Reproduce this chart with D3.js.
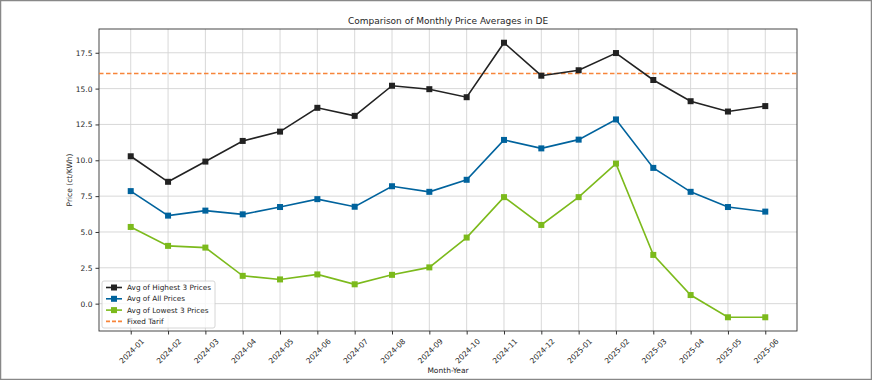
<!DOCTYPE html>
<meta charset='utf-8'>
<style>
  body { margin: 0; background: #fff; }
  text { font-family: 'DejaVu Sans', sans-serif; fill: #262626; }
  .grid line { stroke: #d4d4d4; stroke-width: 0.9; }
  .axis path, .axis line { stroke: #333; }
</style>
<svg width='872' height='380'></svg>
<script src="https://d3js.org/d3.v7.min.js"></script>
<script>
  var months = ['2024-01','2024-02','2024-03','2024-04','2024-05','2024-06','2024-07','2024-08','2024-09',
    '2024-10','2024-11','2024-12','2025-01','2025-02','2025-03','2025-04','2025-05','2025-06'];
  var highest = [10.28, 8.5, 9.91, 11.35, 12.0, 13.66, 13.1, 15.2, 14.96, 14.4, 18.2, 15.9, 16.28, 17.48, 15.6, 14.12, 13.4, 13.78];
  var allPrices = [7.85, 6.14, 6.49, 6.23, 6.74, 7.29, 6.76, 8.19, 7.8, 8.64, 11.42, 10.83, 11.44, 12.85, 9.47, 7.8, 6.74, 6.42];
  var lowest = [5.35, 4.03, 3.91, 1.94, 1.69, 2.04, 1.35, 2.01, 2.53, 4.61, 7.43, 5.49, 7.43, 9.77, 3.4, 0.6, -0.95, -0.95];
  var fixedTarif = 16.05;
  var yTicks = [0, 2.5, 5, 7.5, 10, 12.5, 15, 17.5];

  var series = [
    { name: 'Avg of Highest 3 Prices', values: highest, color: '#222222' },
    { name: 'Avg of All Prices', values: allPrices, color: '#00639d' },
    { name: 'Avg of Lowest 3 Prices', values: lowest, color: '#7cba1c' }
  ];

  var svg = d3.select('svg');
  var plotL = 99, plotR = 797, plotT = 29, plotB = 331;

  // outer frame
  svg.append('rect').attr('x', 0.5).attr('y', 0.5).attr('width', 871).attr('height', 379)
    .attr('fill', 'none').attr('stroke', '#888').attr('stroke-width', 1.5);

  var n = months.length;
  var x = d3.scaleLinear().domain([-0.05 * (n - 1), (n - 1) * 1.05]).range([plotL, plotR]);
  var allVals = highest.concat(allPrices, lowest, [fixedTarif]);
  var ymin = d3.min(allVals), ymax = d3.max(allVals), pad = (ymax - ymin) * 0.05;
  var y = d3.scaleLinear().domain([ymin - pad, ymax + pad]).range([plotB, plotT]);

  // grid
  var grid = svg.append('g').attr('class', 'grid');
  grid.selectAll('.gx').data(d3.range(n)).enter().append('line')
    .attr('x1', function(d) { return x(d); }).attr('x2', function(d) { return x(d); })
    .attr('y1', plotT).attr('y2', plotB);
  grid.selectAll('.gy').data(yTicks).enter().append('line')
    .attr('x1', plotL).attr('x2', plotR)
    .attr('y1', function(d) { return y(d); }).attr('y2', function(d) { return y(d); });

  // axes
  var xAxis = svg.append('g').attr('class', 'axis').attr('transform', 'translate(0,' + plotB + ')')
    .call(d3.axisBottom(x).tickValues(d3.range(n)).tickFormat(function(i) { return months[i]; })
      .tickSizeInner(3.5).tickSizeOuter(0).tickPadding(3));
  // rotated 45deg, centred under the tick
  xAxis.selectAll('text')
    .attr('font-size', 7.5)
    .attr('text-anchor', 'middle')
    .attr('x', 0).attr('y', 0)
    .attr('dy', '0.35em')
    .attr('transform', 'translate(0.5,20) rotate(-45)');
  var yAxis = svg.append('g').attr('class', 'axis').attr('transform', 'translate(' + plotL + ',0)')
    .call(d3.axisLeft(y).tickValues(yTicks).tickFormat(d3.format('.1f')).tickSizeInner(3.5).tickSizeOuter(0).tickPadding(3));
  yAxis.selectAll('text').attr('font-size', 7.5);
  svg.selectAll('.axis .domain').remove();

  // frame of plot area
  svg.append('rect').attr('x', plotL).attr('y', plotT).attr('width', plotR - plotL).attr('height', plotB - plotT)
    .attr('fill', 'none').attr('stroke', '#333').attr('stroke-width', 0.9);

  // fixed tarif
  svg.append('line').attr('x1', plotL).attr('x2', plotR)
    .attr('y1', y(fixedTarif)).attr('y2', y(fixedTarif))
    .attr('stroke', '#f7853a').attr('stroke-width', 1.5).attr('stroke-dasharray', '4.5,2.5');

  var line = d3.line().x(function(d, i) { return x(i); }).y(function(d) { return y(d); });
  series.forEach(function(s) {
    var g = svg.append('g');
    g.append('path').attr('d', line(s.values)).attr('fill', 'none')
      .attr('stroke', s.color).attr('stroke-width', 1.6);
    g.selectAll('rect').data(s.values).enter().append('rect')
      .attr('x', function(d, i) { return x(i) - 3; })
      .attr('y', function(d) { return y(d) - 3; })
      .attr('width', 6).attr('height', 6)
      .attr('fill', s.color);
  });

  // title and labels
  svg.append('text').attr('x', (plotL + plotR) / 2).attr('y', 24).attr('text-anchor', 'middle')
    .attr('font-size', 9).text('Comparison of Monthly Price Averages in DE');
  svg.append('text').attr('x', (plotL + plotR) / 2).attr('y', 373).attr('text-anchor', 'middle')
    .attr('font-size', 7.5).text('Month-Year');
  svg.append('text').attr('transform', 'translate(72,' + (plotT + plotB) / 2 + ') rotate(-90)')
    .attr('text-anchor', 'middle').attr('font-size', 7.5).text('Price (ct/KWh)');

  // legend
  var legend = svg.append('g').attr('transform', 'translate(102,281)');
  legend.append('rect').attr('width', 113).attr('height', 47).attr('rx', 2)
    .attr('fill', 'rgba(255,255,255,0.8)').attr('stroke', '#ccc').attr('stroke-width', 0.8);
  var items = series.map(function(s) { return { name: s.name, color: s.color, dash: null, marker: true }; })
    .concat([{ name: 'Fixed Tarif', color: '#f7853a', dash: '4,2', marker: false }]);
  items.forEach(function(it, i) {
    var yy = 6.5 + i * 11.3;
    legend.append('line').attr('x1', 4).attr('x2', 20).attr('y1', yy).attr('y2', yy)
      .attr('stroke', it.color).attr('stroke-width', 1.6).attr('stroke-dasharray', it.dash);
    if (it.marker) {
      legend.append('rect').attr('x', 9).attr('y', yy - 3).attr('width', 6).attr('height', 6).attr('fill', it.color);
    }
    legend.append('text').attr('x', 25).attr('y', yy + 2.6).attr('font-size', 7.3).text(it.name);
  });
</script>
